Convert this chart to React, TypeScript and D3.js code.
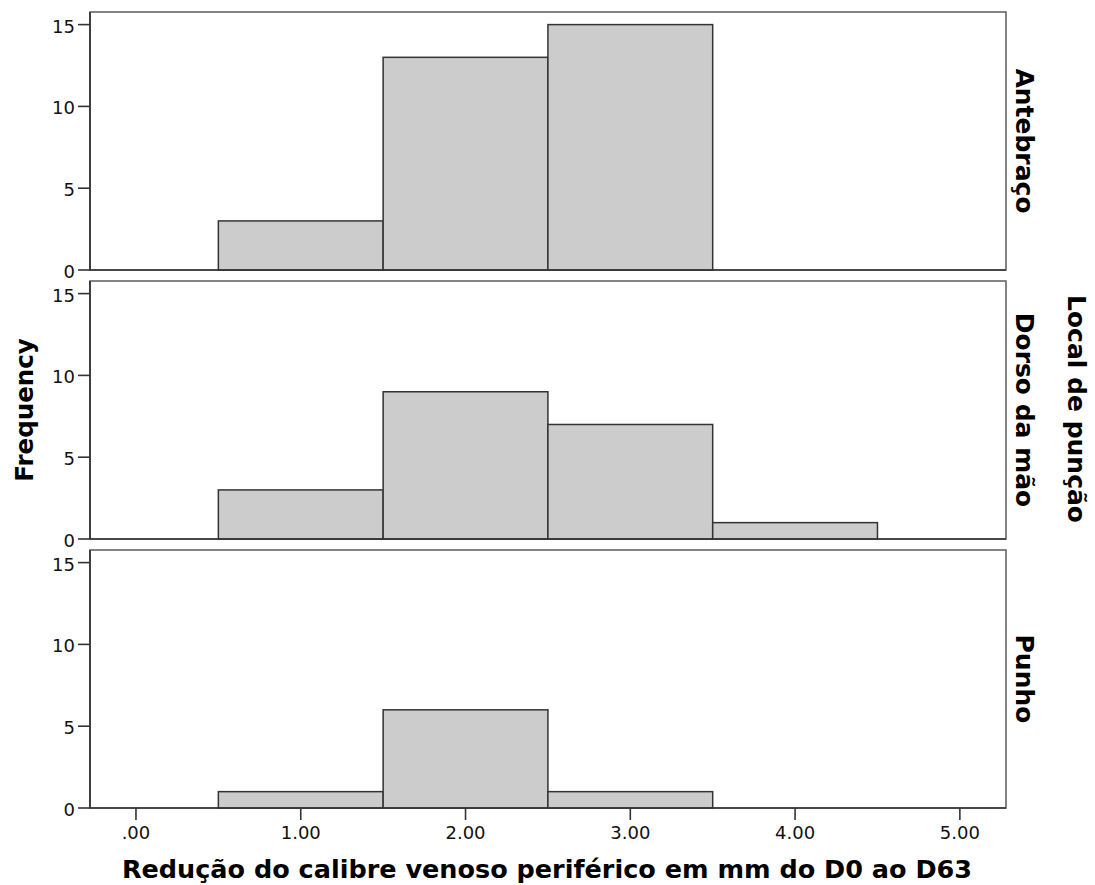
import React from "react";
import * as d3 from "d3";

const binStarts = [0.5, 1.5, 2.5, 3.5];
const binWidth = 1;
const facets = ["Antebraço", "Dorso da mão", "Punho"];
const antebracoCounts = [3, 13, 15, 0];
const dorsoCounts = [3, 9, 7, 1];
const punhoCounts = [1, 6, 1, 0];
const xTicks = [0, 1, 2, 3, 4, 5];
const yTicks = [0, 5, 10, 15];
const xLabel = "Redução do calibre venoso periférico em mm do D0 ao D63";
const yLabel = "Frequency";
const facetTitle = "Local de punção";

const W = 1095;
const H = 885;
const left = 90;
const right = 1006;
const panelTops = [12, 281, 550];
const panelH = 258;

export default function App() {
  const counts = [antebracoCounts, dorsoCounts, punhoCounts];
  const x = d3.scaleLinear().domain([-0.279, 5.28]).range([left, right]);
  const font = "'DejaVu Sans', Verdana, sans-serif";
  const tickFont = "'DejaVu Sans', Verdana, sans-serif";
  return (
    <svg width={W} height={H} style={{ position: "absolute", left: 0, top: 0, background: "#fff" }}>
      {facets.map((f, i) => {
        const top = panelTops[i];
        const bottom = top + panelH;
        const y = d3.scaleLinear().domain([0, 15.77]).range([bottom, top]);
        return (
          <g key={f}>
            <rect x={left} y={top} width={right - left} height={panelH} fill="#fff" stroke="#666" strokeWidth={1.6} />
            {binStarts.map((b, j) =>
              counts[i][j] > 0 ? (
                <rect
                  key={j}
                  x={x(b)}
                  y={y(counts[i][j])}
                  width={x(b + binWidth) - x(b)}
                  height={y(0) - y(counts[i][j])}
                  fill="#cccccc"
                  stroke="#333"
                  strokeWidth={1.5}
                />
              ) : null
            )}
            <line x1={left} x2={left} y1={top} y2={bottom} stroke="#333" strokeWidth={1.7} />
            <line x1={left} x2={right} y1={bottom} y2={bottom} stroke="#333" strokeWidth={1.7} />
            {yTicks.map((t) => (
              <g key={t}>
                <line x1={left - 12} x2={left} y1={y(t)} y2={y(t)} stroke="#333" strokeWidth={1.6} />
                <text x={left - 15} y={y(t) + 8} textAnchor="end" fontSize={18} fontFamily={tickFont} fill="#111">
                  {t}
                </text>
              </g>
            ))}
            <text
              transform={`translate(${1016},${top + panelH / 2}) rotate(90)`}
              textAnchor="middle"
              fontSize={25}
              fontWeight="bold"
              fontFamily={font}
              fill="#000"
            >
              {f}
            </text>
          </g>
        );
      })}
      {xTicks.map((t) => (
        <g key={t}>
          <line x1={x(t)} x2={x(t)} y1={808} y2={820} stroke="#333" strokeWidth={1.6} />
          <text x={x(t)} y={839} textAnchor="middle" fontSize={18} fontFamily={tickFont} fill="#111">
            {d3.format(".2f")(t).replace(/^0/, "")}
          </text>
        </g>
      ))}
      <text x={547} y={878} textAnchor="middle" fontSize={25.5} fontWeight="bold" fontFamily={font} fill="#000">
        {xLabel}
      </text>
      <text
        transform={`translate(${33},${410}) rotate(-90)`}
        textAnchor="middle"
        fontSize={24.5}
        fontWeight="bold"
        fontFamily={font}
        fill="#000"
      >
        {yLabel}
      </text>
      <text
        transform={`translate(${1068},${409}) rotate(90)`}
        textAnchor="middle"
        fontSize={25}
        fontWeight="bold"
        fontFamily={font}
        fill="#000"
      >
        {facetTitle}
      </text>
    </svg>
  );
}
